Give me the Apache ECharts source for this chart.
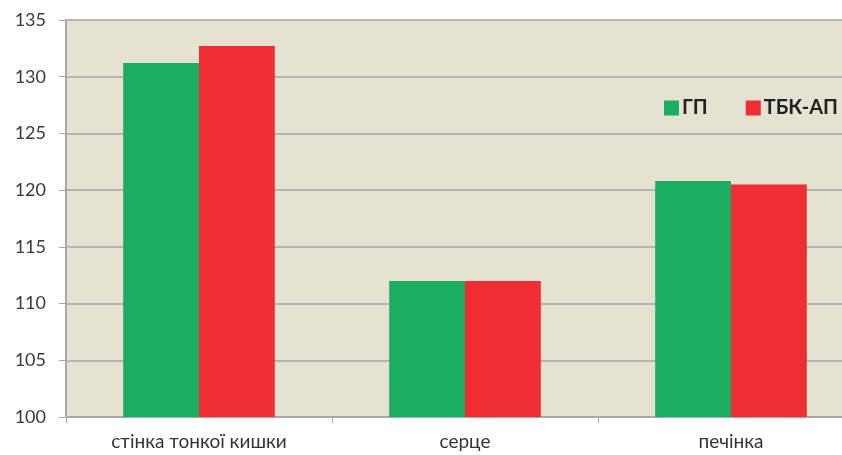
<!DOCTYPE html>
<html><head><meta charset="utf-8">
<script src="https://cdn.jsdelivr.net/npm/echarts@6/dist/echarts.min.js"></script>
<style>html,body{margin:0;padding:0;background:#fff;overflow:hidden}#c{width:864px;height:455px}</style>
</head><body><div id="c"></div>
<script>
const categories = ['стінка тонкої кишки', 'серце', 'печінка'];
const seriesNames = ['ГП', 'ТБК-АП'];
const gpValues = [131.2, 112.0, 120.8];
const tbkValues = [132.7, 112.0, 120.5];
const yMin = 100, yMax = 135, yStep = 5;

const chart = echarts.init(document.getElementById('c'));
chart.setOption({
  animation: false,
  backgroundColor: '#ffffff',
  grid: {left: 66, right: 0, top: 20, bottom: 38, show: true, backgroundColor: '#e6e2d2', borderWidth: 0},
  legend: {
    data: seriesNames, right: 21, top: 93, itemWidth: 15, itemHeight: 15, itemGap: 38,
    icon: 'rect',
    textStyle: {fontFamily: 'Lato, sans-serif', fontSize: 20, fontWeight: 'bold', color: '#222', padding: [0,0,0,-2]}
  },
  xAxis: {
    type: 'category', data: categories,
    axisLine: {lineStyle: {color: '#a8a8a8', width: 2}},
    axisTick: {show: true, length: 6, lineStyle: {color: '#a8a8a8'}},
    axisLabel: {fontFamily: 'Lato, sans-serif', fontSize: 19, color: '#333', margin: 15}
  },
  yAxis: {
    type: 'value', min: yMin, max: yMax, interval: yStep,
    axisLine: {show: true, lineStyle: {color: '#a8a8a8', width: 2}},
    axisTick: {show: true, length: 7, lineStyle: {color: '#a8a8a8'}},
    splitLine: {lineStyle: {color: '#b4b4b0', width: 2}},
    axisLabel: {fontFamily: 'Lato, sans-serif', fontSize: 18, color: '#3a3a3a', margin: 20}
  },
  series: [
    {name: seriesNames[0], type: 'bar', data: gpValues, barGap: '0%', barCategoryGap: '43%', itemStyle: {color: '#1bae60'}},
    {name: seriesNames[1], type: 'bar', data: tbkValues, itemStyle: {color: '#ef2d33'}}
  ]
});
</script></body></html>
